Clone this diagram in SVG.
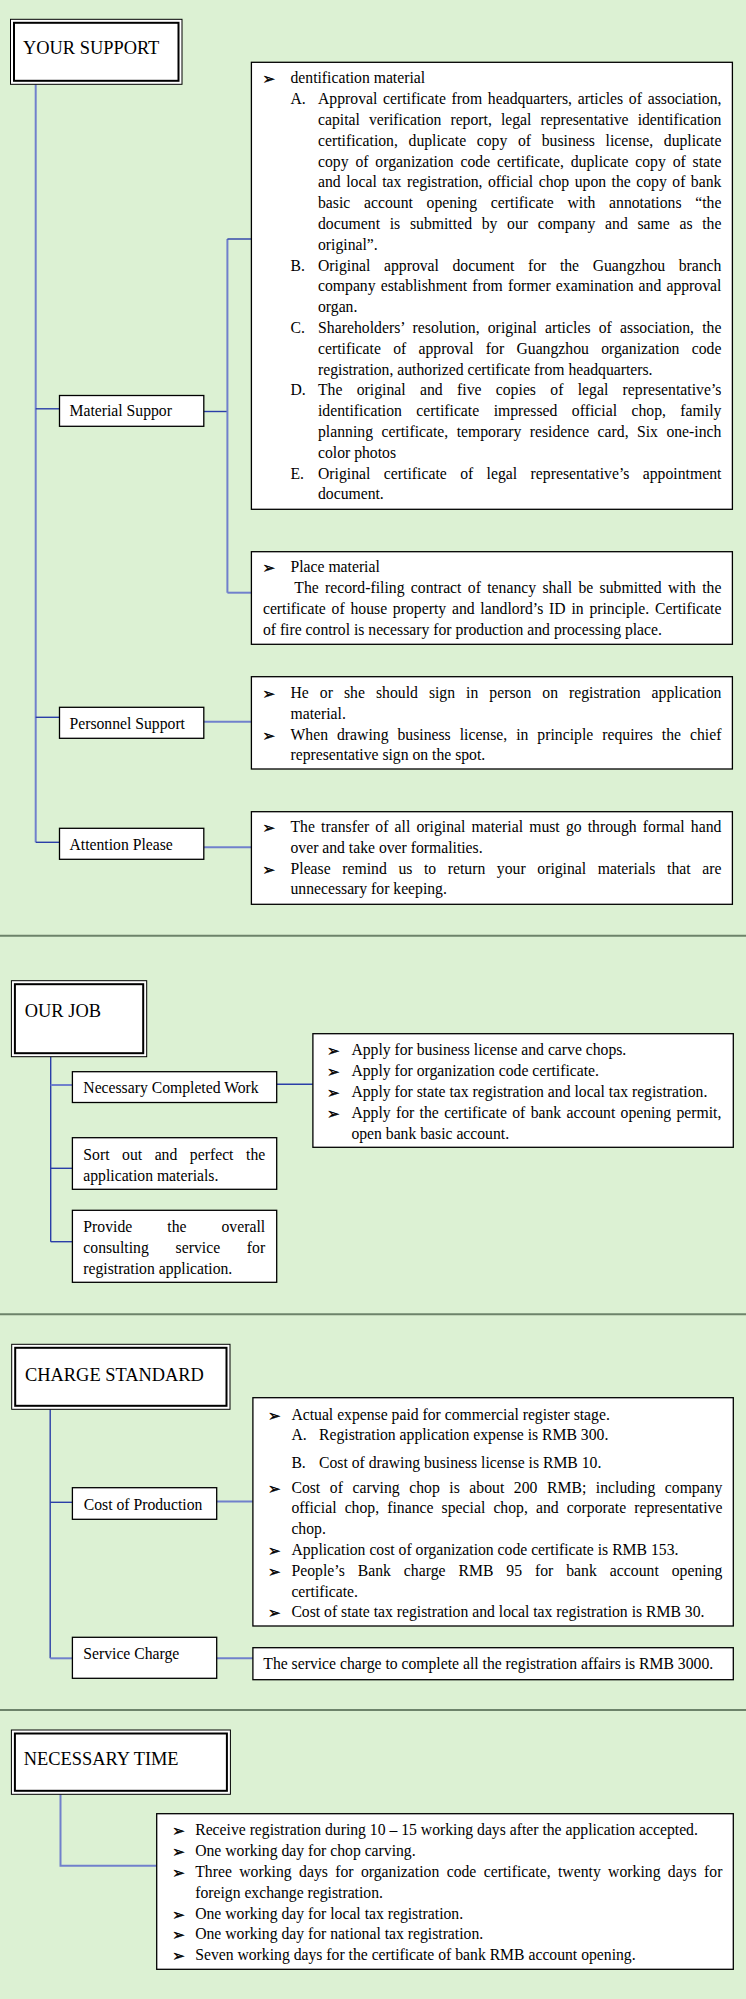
<svg xmlns="http://www.w3.org/2000/svg" width="746" height="1999" viewBox="0 0 746 1999">
<style>
.t{font-family:"Liberation Serif","Times New Roman",serif;font-size:15.7px;fill:#000}
.h{font-family:"Liberation Serif","Times New Roman",serif;font-size:18.4px;fill:#000}
.b{font-family:"DejaVu Sans",sans-serif;font-size:15px;fill:#000;stroke:#000;stroke-width:0.4}
.box{fill:#fff;stroke:#000;stroke-width:1.3}
.tb1{fill:#fff;stroke:#000;stroke-width:1}
.tb2{fill:none;stroke:#000;stroke-width:2}
.cl{stroke:#7080cc;stroke-width:2;fill:none}
.cd{stroke:#2a3ea8;stroke-width:1.4;fill:none}
.sep{stroke:#6d836a;stroke-width:2}
</style>
<rect x="0" y="0" width="746" height="1999" fill="#dcf1d3"/>
<g id="separators">
<line class="sep" x1="0" y1="935.7" x2="746" y2="935.7"/>
<line class="sep" x1="0" y1="1314.3" x2="746" y2="1314.3"/>
<line class="sep" x1="0" y1="1710" x2="746" y2="1710"/>
</g>
<g id="connectors">
<line class="cl" x1="35.7" y1="84.3" x2="35.7" y2="842.3"/>
<line class="cd" x1="35.7" y1="408.8" x2="59.5" y2="408.8"/>
<line class="cd" x1="203.8" y1="411.5" x2="227.4" y2="411.5"/>
<line class="cl" x1="227.4" y1="239" x2="227.4" y2="592.7"/>
<line class="cd" x1="227.4" y1="239" x2="251.4" y2="239"/>
<line class="cl" x1="227.4" y1="592.7" x2="251.4" y2="592.7"/>
<line class="cd" x1="35.7" y1="717.3" x2="59.5" y2="717.3"/>
<line class="cl" x1="203.8" y1="721.7" x2="251.4" y2="721.7"/>
<line class="cd" x1="35.7" y1="842.3" x2="59.5" y2="842.3"/>
<line class="cl" x1="203.8" y1="847.3" x2="251.4" y2="847.3"/>
<line class="cd" x1="50.7" y1="1056.7" x2="50.7" y2="1241.7"/>
<line class="cl" x1="50.7" y1="1085" x2="72.4" y2="1085"/>
<line class="cd" x1="276.7" y1="1084.3" x2="312.9" y2="1084.3"/>
<line class="cd" x1="50.7" y1="1168.3" x2="72.4" y2="1168.3"/>
<line class="cd" x1="50.7" y1="1241.7" x2="72.4" y2="1241.7"/>
<line class="cd" x1="50.2" y1="1409.3" x2="50.2" y2="1658.3"/>
<line class="cd" x1="50.2" y1="1502.3" x2="72.4" y2="1502.3"/>
<line class="cl" x1="216.7" y1="1501.5" x2="252.9" y2="1501.5"/>
<line class="cl" x1="50.2" y1="1658.3" x2="72.4" y2="1658.3"/>
<line class="cl" x1="216.7" y1="1658.3" x2="252.9" y2="1658.3"/>
<polyline class="cl" points="60.5,1794.3 60.5,1865.7 156.7,1865.7"/>
</g>
<g id="your-support">
<rect class="tb1" x="10.5" y="19.3" width="171.5" height="65"/>
<rect class="tb2" x="14" y="22.8" width="164.5" height="58"/>
<text class="h" x="23" y="54">YOUR SUPPORT</text>
</g>
<g id="material-suppor">
<rect class="box" x="59.5" y="395.5" width="144.3" height="30.8"/>
<text class="t" x="69.5" y="416">Material Suppor</text>
</g>
<g id="identification-material">
<rect class="box" x="251.4" y="62.3" width="481" height="447"/>
<text class="b" x="262.5" y="84.3">➢</text>
<text class="t" x="290.5" y="83.3">dentification material</text>
<text class="t" x="290.5" y="104.1">A.</text>
<text class="t" x="318" y="104.1" textLength="403.4" style="word-spacing:1.8px">Approval certificate from headquarters, articles of association,</text>
<text class="t" x="318" y="124.9" textLength="403.4" style="word-spacing:5.1px">capital verification report, legal representative identification</text>
<text class="t" x="318" y="145.7" textLength="403.4" style="word-spacing:6.7px">certification, duplicate copy of business license, duplicate</text>
<text class="t" x="318" y="166.5" textLength="403.4" style="word-spacing:2.9px">copy of organization code certificate, duplicate copy of state</text>
<text class="t" x="318" y="187.3" textLength="403.4" style="word-spacing:1.5px">and local tax registration, official chop upon the copy of bank</text>
<text class="t" x="318" y="208.1" textLength="403.4" style="word-spacing:9.7px">basic account opening certificate with annotations “the</text>
<text class="t" x="318" y="228.9" textLength="403.4" style="word-spacing:5.7px">document is submitted by our company and same as the</text>
<text class="t" x="318" y="249.7">original”.</text>
<text class="t" x="290.5" y="270.5">B.</text>
<text class="t" x="318" y="270.5" textLength="403.4" style="word-spacing:9.6px">Original approval document for the Guangzhou branch</text>
<text class="t" x="318" y="291.3" textLength="403.4" style="word-spacing:1.2px">company establishment from former examination and approval</text>
<text class="t" x="318" y="312.1">organ.</text>
<text class="t" x="290.5" y="332.9">C.</text>
<text class="t" x="318" y="332.9" textLength="403.4" style="word-spacing:4.2px">Shareholders’ resolution, original articles of association, the</text>
<text class="t" x="318" y="353.7" textLength="403.4" style="word-spacing:8.3px">certificate of approval for Guangzhou organization code</text>
<text class="t" x="318" y="374.5">registration, authorized certificate from headquarters.</text>
<text class="t" x="290.5" y="395.3">D.</text>
<text class="t" x="318" y="395.3" textLength="403.4" style="word-spacing:10.3px">The original and five copies of legal representative’s</text>
<text class="t" x="318" y="416.1" textLength="403.4" style="word-spacing:10.5px">identification certificate impressed official chop, family</text>
<text class="t" x="318" y="436.9" textLength="403.4" style="word-spacing:4.5px">planning certificate, temporary residence card, Six one-inch</text>
<text class="t" x="318" y="457.7">color photos</text>
<text class="t" x="290.5" y="478.5">E.</text>
<text class="t" x="318" y="478.5" textLength="403.4" style="word-spacing:9.4px">Original certificate of legal representative’s appointment</text>
<text class="t" x="318" y="499.3">document.</text>
</g>
<g id="place-material">
<rect class="box" x="251.4" y="551.7" width="481" height="92.6"/>
<text class="b" x="262.5" y="573.2">➢</text>
<text class="t" x="290.5" y="572.2">Place material</text>
<text class="t" x="294.3" y="593" textLength="427.1" style="word-spacing:2.4px">The record-filing contract of tenancy shall be submitted with the</text>
<text class="t" x="262.9" y="613.8" textLength="458.5" style="word-spacing:1.8px">certificate of house property and landlord’s ID in principle. Certificate</text>
<text class="t" x="262.9" y="634.6">of fire control is necessary for production and processing place.</text>
</g>
<g id="personnel-support">
<rect class="box" x="59.5" y="707.3" width="144.3" height="31"/>
<text class="t" x="69.5" y="728.5">Personnel Support</text>
</g>
<g id="personnel-detail">
<rect class="box" x="251.4" y="676.7" width="481" height="92.3"/>
<text class="b" x="262.5" y="699">➢</text>
<text class="t" x="290.5" y="698" textLength="430.9" style="word-spacing:7.1px">He or she should sign in person on registration application</text>
<text class="t" x="290.5" y="718.8">material.</text>
<text class="b" x="262.5" y="740.6">➢</text>
<text class="t" x="290.5" y="739.6" textLength="430.9" style="word-spacing:5px">When drawing business license, in principle requires the chief</text>
<text class="t" x="290.5" y="760.4">representative sign on the spot.</text>
</g>
<g id="attention-please">
<rect class="box" x="59.5" y="828.3" width="144.3" height="31"/>
<text class="t" x="69.5" y="850.3">Attention Please</text>
</g>
<g id="attention-detail">
<rect class="box" x="251.4" y="811.7" width="481" height="92.6"/>
<text class="b" x="262.5" y="833">➢</text>
<text class="t" x="290.5" y="832" textLength="430.9" style="word-spacing:2.2px">The transfer of all original material must go through formal hand</text>
<text class="t" x="290.5" y="852.8">over and take over formalities.</text>
<text class="b" x="262.5" y="874.6">➢</text>
<text class="t" x="290.5" y="873.6" textLength="430.9" style="word-spacing:7.6px">Please remind us to return your original materials that are</text>
<text class="t" x="290.5" y="894.4">unnecessary for keeping.</text>
</g>
<g id="our-job">
<rect class="tb1" x="11.4" y="980.7" width="135.3" height="76"/>
<rect class="tb2" x="14.9" y="984.2" width="128.3" height="69"/>
<text class="h" x="24.8" y="1016.5">OUR JOB</text>
</g>
<g id="necessary-completed-work">
<rect class="box" x="72.4" y="1071.7" width="204.3" height="30.8"/>
<text class="t" x="83.3" y="1093.3">Necessary Completed Work</text>
</g>
<g id="work-detail">
<rect class="box" x="312.9" y="1033.7" width="420.4" height="113.6"/>
<text class="b" x="327" y="1056.3">➢</text>
<text class="t" x="351.4" y="1055.3">Apply for business license and carve chops.</text>
<text class="b" x="327" y="1077.1">➢</text>
<text class="t" x="351.4" y="1076.1">Apply for organization code certificate.</text>
<text class="b" x="327" y="1097.9">➢</text>
<text class="t" x="351.4" y="1096.9">Apply for state tax registration and local tax registration.</text>
<text class="b" x="327" y="1118.7">➢</text>
<text class="t" x="351.4" y="1117.7" textLength="370" style="word-spacing:1.4px">Apply for the certificate of bank account opening permit,</text>
<text class="t" x="351.4" y="1138.5">open bank basic account.</text>
</g>
<g id="sort-out">
<rect class="box" x="72.4" y="1137.7" width="204.3" height="51.6"/>
<text class="t" x="83.3" y="1159.5" textLength="181.9" style="word-spacing:8.6px">Sort out and perfect the</text>
<text class="t" x="83.3" y="1180.5">application materials.</text>
</g>
<g id="provide">
<rect class="box" x="72.4" y="1210.3" width="204.3" height="72"/>
<text class="t" x="83.3" y="1232" textLength="181.9" style="word-spacing:31px">Provide the overall</text>
<text class="t" x="83.3" y="1252.8" textLength="181.9" style="word-spacing:22.8px">consulting service for</text>
<text class="t" x="83.3" y="1273.6">registration application.</text>
</g>
<g id="charge-standard">
<rect class="tb1" x="11.7" y="1344.3" width="218.3" height="65"/>
<rect class="tb2" x="15.2" y="1347.8" width="211.3" height="58"/>
<text class="h" x="25" y="1380.7">CHARGE STANDARD</text>
</g>
<g id="cost-of-production">
<rect class="box" x="72.4" y="1487.7" width="144.3" height="31.6"/>
<text class="t" x="83.8" y="1510">Cost of Production</text>
</g>
<g id="cost-detail">
<rect class="box" x="252.9" y="1397.7" width="480.4" height="228.3"/>
<text class="b" x="268" y="1420.6">➢</text>
<text class="t" x="291.4" y="1419.6">Actual expense paid for commercial register stage.</text>
<text class="t" x="291.4" y="1440.3">A.</text>
<text class="t" x="319" y="1440.3">Registration application expense is RMB 300.</text>
<text class="t" x="291.4" y="1467.6">B.</text>
<text class="t" x="319" y="1467.6">Cost of drawing business license is RMB 10.</text>
<text class="b" x="268" y="1493.6">➢</text>
<text class="t" x="291.4" y="1492.6" textLength="431" style="word-spacing:5.6px">Cost of carving chop is about 200 RMB; including company</text>
<text class="t" x="291.4" y="1513.4" textLength="431" style="word-spacing:4.2px">official chop, finance special chop, and corporate representative</text>
<text class="t" x="291.4" y="1534.2">chop.</text>
<text class="b" x="268" y="1556">➢</text>
<text class="t" x="291.4" y="1555">Application cost of organization code certificate is RMB 153.</text>
<text class="b" x="268" y="1576.8">➢</text>
<text class="t" x="291.4" y="1575.8" textLength="431" style="word-spacing:8.9px">People’s Bank charge RMB 95 for bank account opening</text>
<text class="t" x="291.4" y="1596.6">certificate.</text>
<text class="b" x="268" y="1618.4">➢</text>
<text class="t" x="291.4" y="1617.4">Cost of state tax registration and local tax registration is RMB 30.</text>
</g>
<g id="service-charge">
<rect class="box" x="72.4" y="1637.3" width="144.3" height="41"/>
<text class="t" x="83.3" y="1659.3">Service Charge</text>
</g>
<g id="service-detail">
<rect class="box" x="252.9" y="1647.7" width="480.4" height="32"/>
<text class="t" x="263.3" y="1668.5">The service charge to complete all the registration affairs is RMB 3000.</text>
</g>
<g id="necessary-time">
<rect class="tb1" x="11.4" y="1730" width="219" height="64.3"/>
<rect class="tb2" x="14.9" y="1733.5" width="212" height="57.3"/>
<text class="h" x="23.8" y="1765">NECESSARY TIME</text>
</g>
<g id="time-detail">
<rect class="box" x="156.7" y="1813.7" width="576.6" height="155.6"/>
<text class="b" x="172.3" y="1836.3">➢</text>
<text class="t" x="195.2" y="1835.3">Receive registration during 10 – 15 working days after the application accepted.</text>
<text class="b" x="172.3" y="1857.1">➢</text>
<text class="t" x="195.2" y="1856.1">One working day for chop carving.</text>
<text class="b" x="172.3" y="1877.9">➢</text>
<text class="t" x="195.2" y="1876.9" textLength="527.2" style="word-spacing:3.4px">Three working days for organization code certificate, twenty working days for</text>
<text class="t" x="195.2" y="1897.7">foreign exchange registration.</text>
<text class="b" x="172.3" y="1919.5">➢</text>
<text class="t" x="195.2" y="1918.5">One working day for local tax registration.</text>
<text class="b" x="172.3" y="1940.3">➢</text>
<text class="t" x="195.2" y="1939.3">One working day for national tax registration.</text>
<text class="b" x="172.3" y="1961.1">➢</text>
<text class="t" x="195.2" y="1960.1">Seven working days for the certificate of bank RMB account opening.</text>
</g>
</svg>
